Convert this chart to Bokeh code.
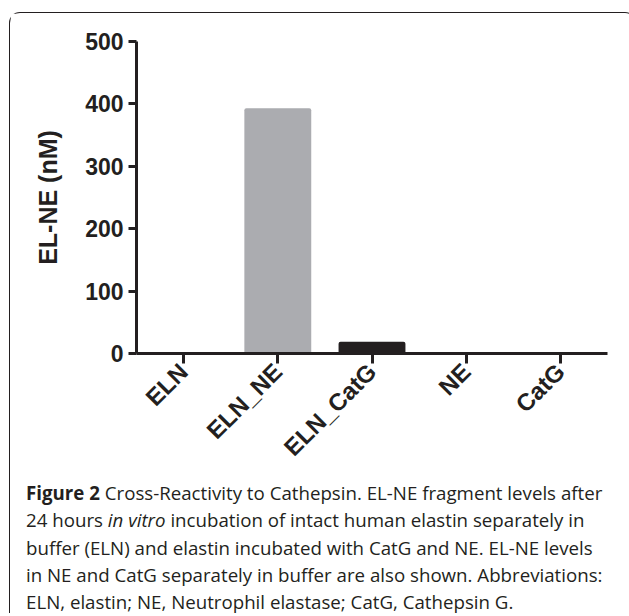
import math
from bokeh.plotting import figure
from bokeh.models import Div, FixedTicker, ColumnDataSource, Range1d
from bokeh.layouts import column
from bokeh.embed import file_html
from bokeh.resources import INLINE

categories = ["ELN", "ELN_NE", "ELN_CatG", "NE", "CatG"]
values = [0, 393, 19, 0, 0]
bar_colors = ["#ABACB0", "#ABACB0", "#231F20", "#ABACB0", "#ABACB0"]
y_ticks = [0, 100, 200, 300, 400, 500]
y_label = "EL-NE (nM)"
caption_lines = [
    "<b>Figure 2</b> Cross-Reactivity to Cathepsin. EL-NE fragment levels after",
    "24 hours <i>in vitro</i> incubation of intact human elastin separately in",
    "buffer (ELN) and elastin incubated with CatG and NE. EL-NE levels",
    "in NE and CatG separately in buffer are also shown. Abbreviations:",
    "ELN, elastin; NE, Neutrophil elastase; CatG, Cathepsin G.",
]

INK = "#231F20"

src = ColumnDataSource(dict(cat=categories, val=values, color=bar_colors))

p = figure(x_range=categories, y_range=Range1d(0, 500), width=615, height=465,
           output_backend="svg", toolbar_location=None,
           min_border_left=126, min_border_right=18, min_border_top=28, min_border_bottom=125)

p.vbar(x="cat", top="val", width=0.71, fill_color="color", line_color=None,
       source=src, border_radius=2)

p.xgrid.visible = False
p.ygrid.visible = False
p.outline_line_color = None
p.background_fill_color = "white"
p.border_fill_color = "white"

for ax in (p.xaxis[0], p.yaxis[0]):
    ax.axis_line_width = 3
    ax.axis_line_color = INK
    ax.major_tick_line_width = 3
    ax.major_tick_line_color = INK
    ax.major_tick_in = 0
    ax.minor_tick_out = 0
    ax.minor_tick_in = 0
    ax.major_label_text_font = "Liberation Sans"
    ax.major_label_text_font_style = "bold"
    ax.major_label_text_font_size = "23px"
    ax.major_label_text_color = INK

p.yaxis.ticker = FixedTicker(ticks=y_ticks)
p.yaxis.major_tick_out = 8
p.yaxis.major_label_standoff = 5
p.yaxis.axis_label = y_label
p.yaxis.axis_label_text_font = "Liberation Sans"
p.yaxis.axis_label_text_font_style = "bold"
p.yaxis.axis_label_text_font_size = "25px"
p.yaxis.axis_label_text_color = INK
p.yaxis.axis_label_standoff = 20

p.xaxis.major_tick_out = 10
p.xaxis.major_label_standoff = 4
p.xaxis.major_label_text_font_size = "24px"
p.xaxis.major_label_orientation = math.pi / 4

html = ('<div style="margin-top:-4px;padding:0 0 0 11px;font-family:\'Open Sans\';font-size:18.7px;'
        'line-height:27.3px;color:#231F20;white-space:nowrap">'
        + "<br>".join(caption_lines) + "</div>")
cap = Div(text=html, width=615, height=125)

layout = column(p, cap, styles={
    "border": "1.5px solid #231F20",
    "border-bottom": "none",
    "border-radius": "11px 11px 0 0",
    "margin-left": "9px",
    "margin-top": "12px",
    "margin-bottom": "-40px",
    "background": "white",
})

open("out.html", "w").write(file_html(layout, INLINE))
